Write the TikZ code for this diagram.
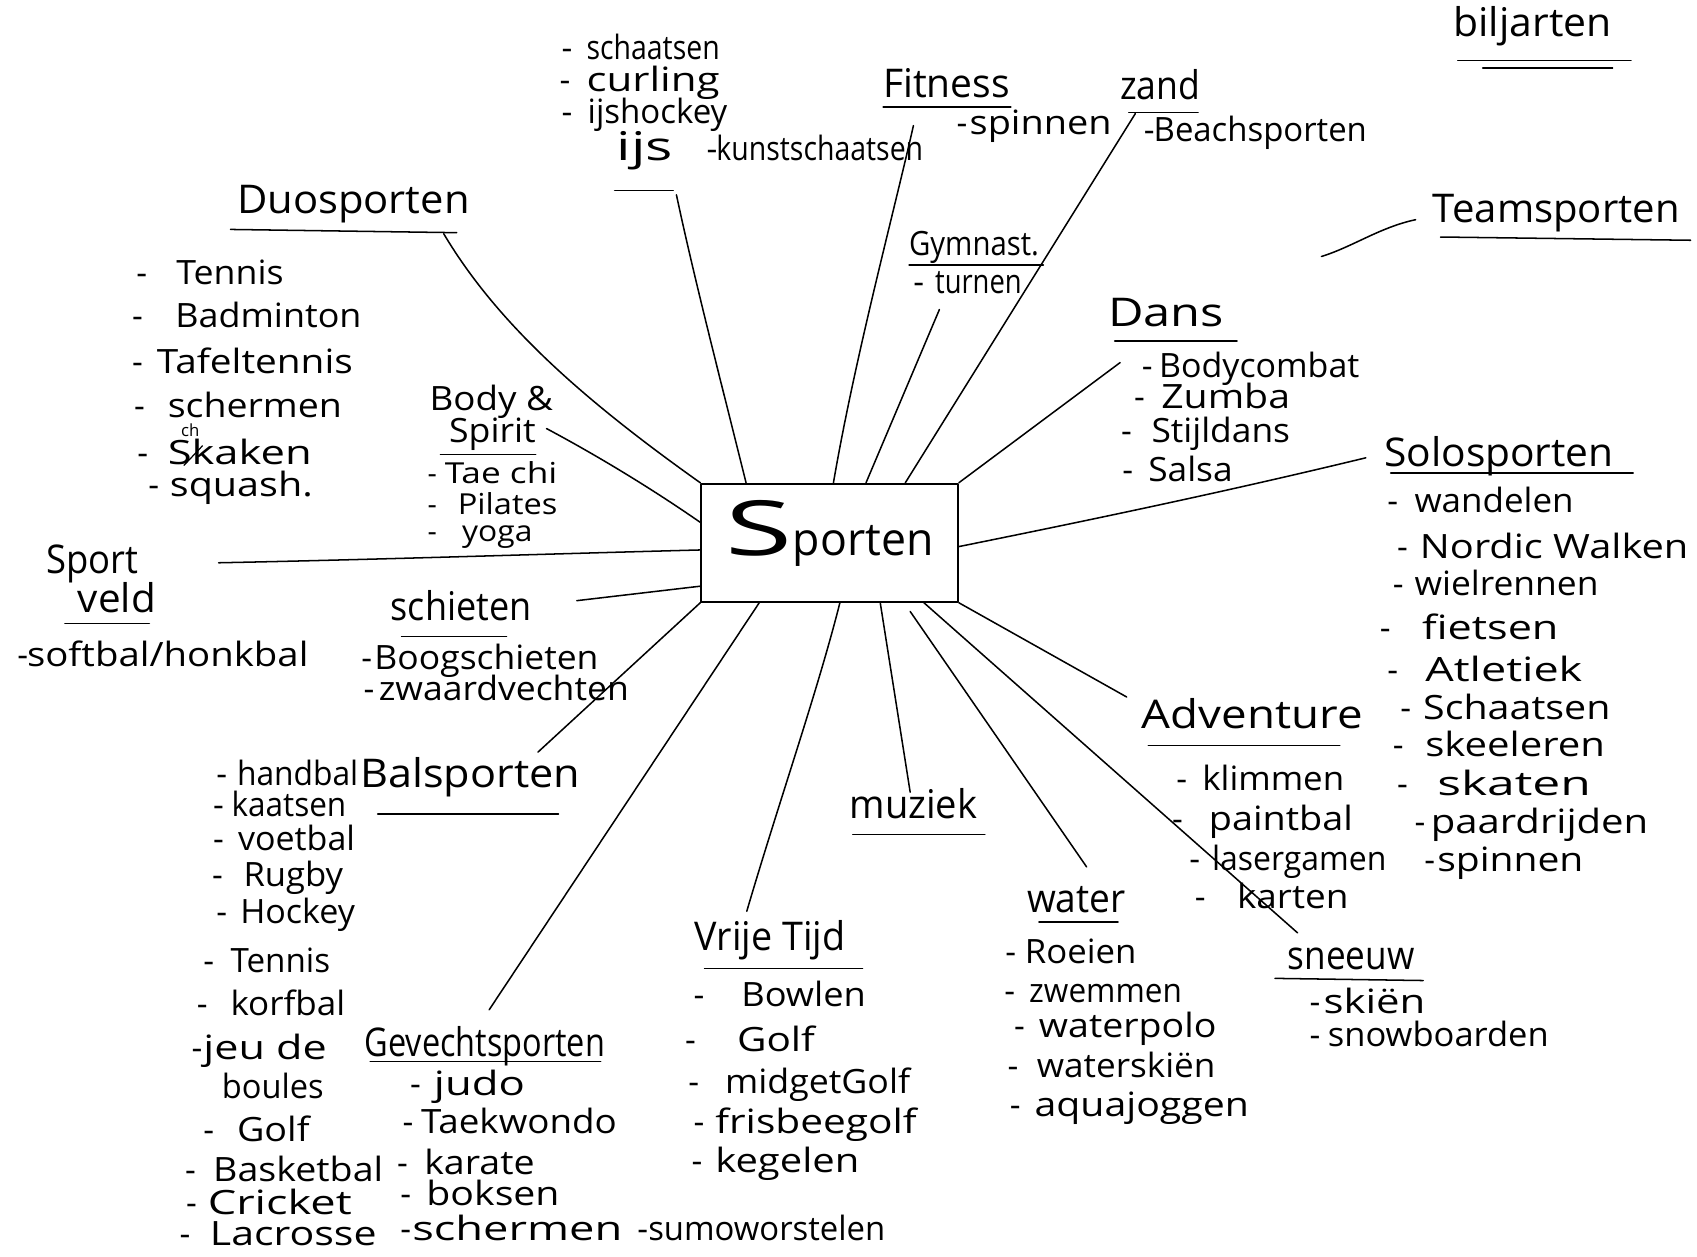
\documentclass[tikz,border=0pt]{standalone}
\usepackage{fontspec}
\setmainfont{Open Sans}
\usepackage{graphicx}
\usetikzlibrary{calc}
\newlength\unitL
\setlength\unitL{0.025cm}
% fit text horizontally to a width given in picture units
\newcommand\fw[2]{\resizebox{#1\unitL}{\height}{#2}}
% list item: dash x, word x, word end x, word
\newcommand\li[4]{\makebox[\dimexpr #2\unitL-#1\unitL\relax][l]{-}\resizebox{\dimexpr #3\unitL-#2\unitL\relax}{\height}{#4}}
\tikzset{
  itm/.style={anchor=base west, inner sep=0pt, outer sep=0pt, font=\fontsize{22}{26}\selectfont},
  smitm/.style={anchor=base west, inner sep=0pt, outer sep=0pt, font=\fontsize{19}{22}\selectfont},
  hdr/.style={anchor=base west, inner sep=0pt, outer sep=0pt, font=\fontsize{26}{30}\selectfont},
  mid/.style={anchor=base west, inner sep=0pt, outer sep=0pt, font=\fontsize{22}{26}\selectfont},
  spoke/.style={line width=1pt},
  uline/.style={line width=1pt},
  centrebox/.style={draw, line width=1.3pt, inner sep=0pt, minimum width=5.925cm, minimum height=2.725cm, text height=34pt, text depth=17.6pt}
}
\begin{document}
\begin{tikzpicture}[x=0.025cm, y=-0.025cm, line cap=round, line join=round]
\useasboundingbox (0,0) rectangle (1568,1161);
\fill[white] (0,0) rectangle (1568,1161);

% ---------- central node ----------
\node[centrebox] (sp) at (766.5,501.5) {{\fontsize{50}{52}\selectfont\fw{62}{S}}{\fontsize{30}{32}\selectfont\fw{130}{porten}}};

% ---------- free ends of spokes ----------
\coordinate (duoE) at (410,216);
\coordinate (ijsE) at (625,180);
\coordinate (fitE) at (844,116);
\coordinate (gymE) at (868,286);
\coordinate (zandE) at (1049,105);
\coordinate (dansE) at (1035,335);
\coordinate (soloE) at (1262,423);
\coordinate (advE) at (1041,644);
\coordinate (sneeuwE) at (1199,862);
\coordinate (waterS) at (841,565);
\coordinate (waterE) at (1004,801);
\coordinate (muzE) at (841,732);
\coordinate (vrijE) at (690,842);
\coordinate (gevE) at (452,933);
\coordinate (balE) at (497,695);
\coordinate (schE) at (533,555);
\coordinate (veldE) at (202,520);
\coordinate (bodyE) at (505,396);
\coordinate (teamA) at (1221,237);
\coordinate (teamB) at (1308,203);

% ---------- spokes ----------
\draw[spoke] (sp.north west) .. controls (540,370) and (460,300) .. (duoE);
\draw[spoke] ($(sp.north west)!0.177!(sp.north east)$) .. controls (668,360) and (642,260) .. (ijsE);
\draw[spoke] ($(sp.north west)!0.515!(sp.north east)$) .. controls (790,330) and (825,200) .. (fitE);
\draw[spoke] ($(sp.north west)!0.641!(sp.north east)$) -- (gymE);
\draw[spoke] ($(sp.north west)!0.793!(sp.north east)$) -- (zandE);
\draw[spoke] (sp.north east) -- (dansE);
\draw[spoke] ($(sp.north east)!0.532!(sp.south east)$) .. controls (1000,482) and (1130,455) .. (soloE);
\draw[spoke] (sp.south east) -- (advE);
\draw[spoke] ($(sp.south west)!0.865!(sp.south east)$) -- (sneeuwE);
\draw[spoke] (waterS) -- (waterE);
\draw[spoke] ($(sp.south west)!0.696!(sp.south east)$) -- (muzE);
\draw[spoke] ($(sp.south west)!0.54!(sp.south east)$) .. controls (755,640) and (720,740) .. (vrijE);
\draw[spoke] ($(sp.south west)!0.228!(sp.south east)$) -- (gevE);
\draw[spoke] (sp.south west) -- (balE);
\draw[spoke] ($(sp.north west)!0.862!(sp.south west)$) -- (schE);
\draw[spoke] ($(sp.north west)!0.56!(sp.south west)$) .. controls (500,512) and (350,517) .. (veldE);
\draw[spoke] ($(sp.north west)!0.33!(sp.south west)$) .. controls (600,450) and (550,420) .. (bodyE);
\draw[spoke] (teamA) .. controls (1250,228) and (1275,210) .. (teamB);

% ---------- headers ----------
\node[hdr] (duo) at (219,197) {\fw{215}{Duosporten}};
\node[mid] (body1) at (397,379) {\fw{114}{Body \&}};
\node[mid] (body2) at (415,409) {\fw{80}{Spirit}};
\node[hdr] (veld1) at (43,530) {\fw{85}{Sport}};
\node[hdr] (veld2) at (72,566) {\fw{72}{veld}};
\node[hdr] (schiet) at (361,573) {\fw{130}{schieten}};
\node[hdr] (bal) at (333,728) {\fw{203}{Balsporten}};
\node[hdr] (gev) at (337,976) {\fw{222}{Gevechtsporten}};
\node[hdr] (vrij) at (642,878) {\fw{139}{Vrije Tijd}};
\node[hdr] (muz) at (785,756) {\fw{118}{muziek}};
\node[hdr] (water) at (949,843) {\fw{91}{water}};
\node[hdr] (sneeuw) at (1190,896) {\fw{117}{sneeuw}};
\node[hdr] (adv) at (1055,673) {\fw{204}{Adventure}};
\node[hdr] (solo) at (1279,431) {\fw{212}{Solosporten}};
\node[hdr] (dans) at (1024,302) {\fw{107}{Dans}};
\node[itm] (gym) at (840,236) {\fw{120}{Gymnast.}};
\node[hdr] (fit) at (816,90) {\fw{117}{Fitness}};
\node[hdr] (zand) at (1035,92) {\fw{74}{zand}};
\node[hdr] (ijs) at (570,148) {\fw{52}{ijs}};
\node[hdr] (bilj) at (1343,34) {\fw{146}{biljarten}};
\node[hdr] (team) at (1324,206) {\fw{228}{Teamsporten}};

% ---------- underlines ----------
\draw[uline] (213,212) -- (422,215);
\draw[uline] (407,420) -- (495,420);
\draw[uline] (60,576) -- (138,576);
\draw[uline] (371,588) -- (468,588);
\draw[uline] (349,752) -- (516,752);
\draw[uline] (342,981) -- (555,981);
\draw[uline] (651,895) -- (797,895);
\draw[uline] (788,771) -- (910,771);
\draw[uline] (960,852) -- (1033,852);
\draw[uline] (1178,904) -- (1315,906);
\draw[uline] (1061,689) -- (1238,689);
\draw[uline] (1285,437) -- (1509,437);
\draw[uline] (1030,315) -- (1143,315);
\draw[uline] (840,245) -- (964,245);
\draw[uline] (816,99) -- (934,99);
\draw[uline] (1043,104) -- (1107,104);
\draw[uline] (568,176) -- (622,176);
\draw[uline] (1347,56) -- (1507,56);
\draw[uline] (1370,63) -- (1490,63);
\draw[uline] (1331,219) -- (1562,222);

% ---------- Duosporten list ----------
\node[itm] (d1) at (126,263) {\li{126}{163}{262}{Tennis}};
\node[itm] (d2) at (122,303) {\li{122}{162}{334}{Badminton}};
\node[itm] (d3) at (122,345) {\li{122}{145}{326}{Tafeltennis}};
\node[itm] (d4) at (124,386) {\li{124}{155}{316}{schermen}};
\node[itm] (d5) at (127,429) {\li{127}{155}{288}{Skaken}};
\node[anchor=base west, inner sep=0pt, font=\fontsize{11}{13}\selectfont] (d5ch) at (167,403) {ch};
\draw[line width=0.8pt] (170,430) -- (187,412);
\node[itm] (d6) at (137,459) {\li{137}{157}{289}{squash.}};

% ---------- Body & Spirit list ----------
\node[smitm] (b1) at (395,447) {\li{395}{411}{515}{Tae chi}};
\node[smitm] (b2) at (395,475) {\li{395}{423}{515}{Pilates}};
\node[smitm] (b3) at (395,500) {\li{395}{427}{492}{yoga}};

% ---------- Sport veld ----------
\node[itm] (v1) at (16,616) {\li{16}{25}{285}{softbal/honkbal}};

% ---------- schieten ----------
\node[itm] (s1) at (334,619) {\li{334}{346}{553}{Boogschieten}};
\node[itm] (s2) at (336,647) {\li{336}{350}{581}{zwaardvechten}};

% ---------- Balsporten list ----------
\node[itm] (a1) at (200,726) {\li{200}{219}{331}{handbal}};
\node[itm] (a2) at (197,754) {\li{197}{214}{320}{kaatsen}};
\node[itm] (a3) at (197,786) {\li{197}{220}{328}{voetbal}};
\node[itm] (a4) at (196,819) {\li{196}{225}{317}{Rugby}};
\node[itm] (a5) at (200,853) {\li{200}{222}{328}{Hockey}};
\node[itm] (a6) at (188,899) {\li{188}{213}{305}{Tennis}};
\node[itm] (a7) at (182,938) {\li{182}{213}{319}{korfbal}};
\node[itm] (a8) at (177,979) {\li{177}{188}{302}{jeu de}};
\node[itm] (a9) at (205,1015) {\fw{94}{boules}};
\node[itm] (a10) at (188,1055) {\li{188}{219}{286}{Golf}};
\node[itm] (a11) at (171,1092) {\li{171}{197}{354}{Basketbal}};
\node[itm] (a12) at (172,1122) {\li{172}{192}{325}{Cricket}};
\node[itm] (a13) at (166,1151) {\li{166}{194}{348}{Lacrosse}};

% ---------- Gevechtsporten list ----------
\node[itm] (g1) at (379,1012) {\li{379}{401}{485}{judo}};
\node[itm] (g2) at (372,1047) {\li{372}{389}{570}{Taekwondo}};
\node[itm] (g3) at (367,1085) {\li{367}{392}{494}{karate}};
\node[itm] (g4) at (370,1114) {\li{370}{394}{517}{boksen}};
\node[itm] (g5) at (370,1146) {\li{370}{381}{575}{schermen}};
\node[itm] (g6) at (589,1146) {\li{589}{599}{818}{sumoworstelen}};

% ---------- Vrije Tijd list ----------
\node[itm] (f1) at (641,930) {\li{641}{685}{800}{Bowlen}};
\node[itm] (f2) at (633,972) {\li{633}{681}{753}{Golf}};
\node[itm] (f3) at (636,1010) {\li{636}{670}{841}{midgetGolf}};
\node[itm] (f4) at (641,1047) {\li{641}{661}{847}{frisbeegolf}};
\node[itm] (f5) at (639,1083) {\li{639}{661}{794}{kegelen}};

% ---------- water list ----------
\node[itm] (w1) at (929,890) {\li{929}{947}{1050}{Roeien}};
\node[itm] (w2) at (928,926) {\li{928}{951}{1092}{zwemmen}};
\node[itm] (w3) at (937,959) {\li{937}{960}{1124}{waterpolo}};
\node[itm] (w4) at (931,996) {\li{931}{958}{1123}{waterskiën}};
\node[itm] (w5) at (933,1032) {\li{933}{956}{1154}{aquajoggen}};

% ---------- sneeuw list ----------
\node[itm] (n1) at (1210,936) {\li{1210}{1223}{1317}{skiën}};
\node[itm] (n2) at (1210,967) {\li{1210}{1227}{1431}{snowboarden}};

% ---------- Adventure list ----------
\node[itm] (e1) at (1087,730) {\li{1087}{1111}{1242}{klimmen}};
\node[itm] (e2) at (1083,767) {\li{1083}{1117}{1250}{paintbal}};
\node[itm] (e3) at (1099,804) {\li{1099}{1120}{1281}{lasergamen}};
\node[itm] (e4) at (1104,839) {\li{1104}{1143}{1246}{karten}};

% ---------- Solosporten list ----------
\node[itm] (o1) at (1282,474) {\li{1282}{1307}{1454}{wandelen}};
\node[itm] (o2) at (1291,516) {\li{1291}{1312}{1560}{Nordic Walken}};
\node[itm] (o3) at (1287,550) {\li{1287}{1307}{1477}{wielrennen}};
\node[itm] (o4) at (1275,591) {\li{1275}{1314}{1440}{fietsen}};
\node[itm] (o5) at (1282,630) {\li{1282}{1317}{1462}{Atletiek}};
\node[itm] (o6) at (1294,665) {\li{1294}{1315}{1488}{Schaatsen}};
\node[itm] (o7) at (1287,699) {\li{1287}{1317}{1483}{skeeleren}};
\node[itm] (o8) at (1291,735) {\li{1291}{1328}{1470}{skaten}};
\node[itm] (o9) at (1307,770) {\li{1307}{1322}{1523}{paardrijden}};
\node[itm] (o10) at (1316,805) {\li{1316}{1328}{1463}{spinnen}};

% ---------- Dans list ----------
\node[itm] (c1) at (1055,349) {\li{1055}{1071}{1256}{Bodycombat}};
\node[itm] (c2) at (1048,377) {\li{1048}{1073}{1192}{Zumba}};
\node[itm] (c3) at (1036,409) {\li{1036}{1064}{1192}{Stijldans}};
\node[itm] (c4) at (1037,445) {\li{1037}{1061}{1139}{Salsa}};

% ---------- top groups ----------
\node[itm] (t1) at (884,124) {\li{884}{896}{1027}{spinnen}};
\node[itm] (t2) at (1057,131) {\li{1057}{1066}{1263}{Beachsporten}};
\node[itm] (t3) at (844,271) {\li{844}{864}{944}{turnen}};
\node[itm] (i1) at (519,55) {\li{519}{542}{665}{schaatsen}};
\node[itm] (i2) at (517,85) {\li{517}{542}{665}{curling}};
\node[itm] (i3) at (519,114) {\li{519}{543}{672}{ijshockey}};
\node[itm] (i4) at (653,148) {\li{653}{662}{853}{kunstschaatsen}};
\end{tikzpicture}
\end{document}
